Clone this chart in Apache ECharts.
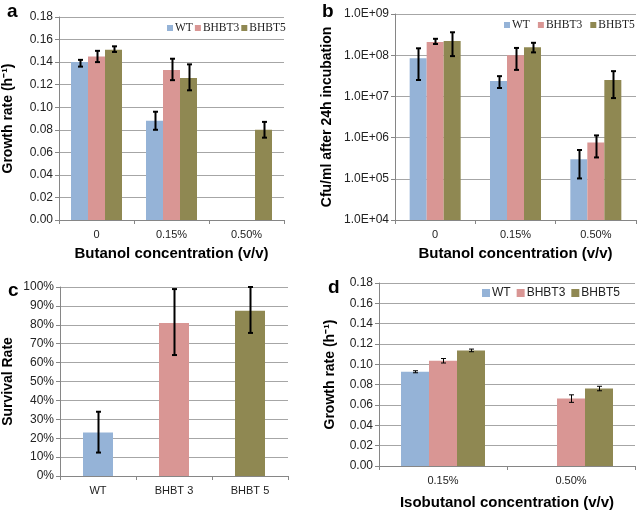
<!DOCTYPE html>
<html lang="en">
<head>
<meta charset="UTF-8">
<title>Butanol tolerance</title>
<script src="https://cdn.jsdelivr.net/npm/echarts@6/dist/echarts.min.js"></script>
<style>
html, body { margin: 0; padding: 0; background: #fff; }
#main { width: 638px; height: 511px; }
</style>
</head>
<body>
<div id="main"></div>
<script type="text/javascript">
var names = ['WT', 'BHBT3', 'BHBT5'];
var colors = ['#95b3d7', '#d99694', '#8f8852'];

/* a: growth rate, butanol */
var catA = ['0', '0.15%', '0.50%'];
var aWT = [0.140, 0.088, 0];
var aWTlo = [0.136, 0.080, null];
var aWThi = [0.142, 0.096, null];
var aB3 = [0.145, 0.133, 0];
var aB3lo = [0.140, 0.124, null];
var aB3hi = [0.150, 0.143, null];
var aB5 = [0.151, 0.126, 0.080];
var aB5lo = [0.149, 0.115, 0.073];
var aB5hi = [0.154, 0.138, 0.087];

/* b: cfu/ml after 24h, log axis */
var catB = ['0', '0.15%', '0.50%'];
var bWT = [8.4e7, 2.35e7, 3.0e5];
var bWTlo = [2.5e7, 1.6e7, 1.02e5];
var bWThi = [1.47e8, 3.1e7, 5.0e5];
var bB3 = [2.1e8, 1.0e8, 7.6e5];
var bB3lo = [1.87e8, 4.4e7, 3.3e5];
var bB3hi = [2.5e8, 1.5e8, 1.13e6];
var bB5 = [2.2e8, 1.55e8, 2.5e7];
var bB5lo = [9.5e7, 1.17e8, 9.1e6];
var bB5hi = [3.6e8, 2.0e8, 4.1e7];

/* c: survival rate */
var catC = ['WT', 'BHBT 3', 'BHBT 5'];
var cVal = [0.23, 0.81, 0.875];
var cLo = [0.124, 0.64, 0.757];
var cHi = [0.34, 0.989, 1.0];

/* d: growth rate, isobutanol */
var catD = ['0.15%', '0.50%'];
var dWT = [0.0927, 0];
var dWTlo = [0.0917, null];
var dWThi = [0.0937, null];
var dB3 = [0.1035, 0.0663];
var dB3lo = [0.1013, 0.0626];
var dB3hi = [0.1057, 0.0700];
var dB5 = [0.1137, 0.0762];
var dB5lo = [0.1124, 0.0740];
var dB5hi = [0.1150, 0.0784];

var myChart = echarts.init(document.getElementById('main'));

var sans = 'Liberation Sans, Arial, sans-serif';
var serif = 'Liberation Serif, Times New Roman, serif';

// rows of [category, low, high, seriesIndex] for the error bars
function errRows(los, his) {
    var rows = [];
    for (var s = 0; s < los.length; s++) {
        for (var i = 0; i < los[s].length; i++) {
            if (los[s][i] != null) rows.push([i, los[s][i], his[s][i], s]);
        }
    }
    return rows;
}

function errSeries(xi, yi, rows, n, barW, cap, lw) {
    return {
        type: 'custom',
        xAxisIndex: xi,
        yAxisIndex: yi,
        z: 5,
        silent: true,
        data: rows,
        renderItem: function (params, api) {
            var lo = api.coord([api.value(0), api.value(1)]);
            var hi = api.coord([api.value(0), api.value(2)]);
            var x = Math.round(lo[0] + (api.value(3) - (n - 1) / 2) * barW) + 0.5;
            var st = { stroke: '#000', lineWidth: lw };
            return {
                type: 'group',
                children: [
                    { type: 'line', shape: { x1: x, y1: hi[1], x2: x, y2: lo[1] }, style: st },
                    { type: 'line', shape: { x1: x - cap, y1: hi[1], x2: x + cap, y2: hi[1] }, style: st },
                    { type: 'line', shape: { x1: x - cap, y1: lo[1], x2: x + cap, y2: lo[1] }, style: st }
                ]
            };
        }
    };
}

function barSeries(name, xi, yi, data, color, w) {
    return {
        name: name,
        type: 'bar',
        xAxisIndex: xi,
        yAxisIndex: yi,
        data: data,
        barWidth: w,
        barGap: '0%',
        itemStyle: { color: color }
    };
}

function catAxis(gi, data, name, gap) {
    return {
        type: 'category',
        gridIndex: gi,
        data: data,
        name: name,
        nameLocation: 'middle',
        nameGap: gap,
        nameTextStyle: { fontFamily: sans, fontWeight: 'bold', fontSize: 15, color: '#000' },
        axisLine: { lineStyle: { color: '#868686', width: 1 } },
        axisTick: { show: true, length: 4, lineStyle: { color: '#868686' } },
        axisLabel: { fontFamily: sans, fontSize: 11, color: '#222', margin: 9 }
    };
}

function valAxis(gi, name, gap, opts) {
    var ax = {
        type: 'value',
        gridIndex: gi,
        name: name,
        nameLocation: 'middle',
        nameGap: gap,
        nameTextStyle: { fontFamily: sans, fontWeight: 'bold', fontSize: 14, color: '#000' },
        axisLine: { show: true, lineStyle: { color: '#868686', width: 1 } },
        axisTick: { show: true, length: 4, lineStyle: { color: '#868686' } },
        splitLine: { lineStyle: { color: '#a6a6a6', width: 1 } }
    };
    for (var k in opts) ax[k] = opts[k];
    return ax;
}

function tickLabel(fmt) {
    return { fontFamily: sans, fontSize: 12, color: '#222', margin: 6, formatter: fmt };
}

var letterStyle = { fontFamily: sans, fontWeight: 'bold', fontSize: 19, color: '#000' };

myChart.setOption({
    animation: false,
    title: [
        { text: 'a', left: 2, top: -3, textStyle: letterStyle },
        { text: 'b', left: 317, top: -3, textStyle: letterStyle },
        { text: 'c', left: 3, top: 276, textStyle: letterStyle },
        { text: 'd', left: 323, top: 273, textStyle: letterStyle }
    ],
    legend: [
        {
            data: names, left: 167, top: 22, padding: 0,
            itemWidth: 6, itemHeight: 6, itemGap: 2, icon: 'rect',
            textStyle: { fontFamily: serif, fontSize: 11.5, color: '#222', padding: [0, 0, 0, -3] }
        },
        {
            data: names, left: 504, top: 19, padding: 0,
            itemWidth: 6, itemHeight: 6, itemGap: 8, icon: 'rect',
            textStyle: { fontFamily: serif, fontSize: 11.5, color: '#222', padding: [0, 0, 0, -3] }
        },
        {
            data: names, left: 482, top: 287, padding: 0,
            itemWidth: 8, itemHeight: 8, itemGap: 6, icon: 'rect',
            textStyle: { fontFamily: sans, fontSize: 12, color: '#222', padding: [0, 0, 0, -3] }
        }
    ],
    grid: [
        { left: 56, top: 17, width: 228, height: 203 },
        { left: 395, top: 14, width: 241, height: 206 },
        { left: 56, top: 287, width: 232, height: 189 },
        { left: 379, top: 283, width: 256, height: 189 }
    ],
    xAxis: [
        catAxis(0, catA, 'Butanol concentration (v/v)', 26),
        catAxis(1, catB, 'Butanol concentration (v/v)', 26),
        catAxis(2, catC, '', 26),
        catAxis(3, catD, 'Isobutanol concentration (v/v)', 29)
    ],
    yAxis: [
        valAxis(0, 'Growth rate (h\u207b\u00b9)', 44, {
            min: 0, max: 0.18, interval: 0.02,
            axisLabel: tickLabel(function (v) { return v.toFixed(2); })
        }),
        valAxis(1, 'Cfu/ml after 24h incubation', 61, {
            type: 'log', logBase: 10, min: 1e4, max: 1e9,
            axisLabel: tickLabel(function (v) {
                return '1.0E+' + String(Math.round(Math.log10(v))).padStart(2, '0');
            })
        }),
        valAxis(2, 'Survival Rate', 45, {
            min: 0, max: 1, interval: 0.1,
            axisLabel: tickLabel(function (v) { return Math.round(v * 100) + '%'; })
        }),
        valAxis(3, 'Growth rate (h\u207b\u00b9)', 42, {
            min: 0, max: 0.18, interval: 0.02,
            axisLabel: tickLabel(function (v) { return v.toFixed(2); })
        })
    ],
    series: [
        barSeries('WT', 0, 0, aWT, colors[0], 17),
        barSeries('BHBT3', 0, 0, aB3, colors[1], 17),
        barSeries('BHBT5', 0, 0, aB5, colors[2], 17),
        errSeries(0, 0, errRows([aWTlo, aB3lo, aB5lo], [aWThi, aB3hi, aB5hi]), 3, 17, 2.5, 2),

        barSeries('WT', 1, 1, bWT, colors[0], 17),
        barSeries('BHBT3', 1, 1, bB3, colors[1], 17),
        barSeries('BHBT5', 1, 1, bB5, colors[2], 17),
        errSeries(1, 1, errRows([bWTlo, bB3lo, bB5lo], [bWThi, bB3hi, bB5hi]), 3, 17, 2.5, 2),

        {
            type: 'bar', xAxisIndex: 2, yAxisIndex: 2, barWidth: 30,
            data: cVal.map(function (v, i) { return { value: v, itemStyle: { color: colors[i] } }; })
        },
        errSeries(2, 2, errRows([cLo], [cHi]), 1, 0, 2.5, 2),

        barSeries('WT', 3, 3, dWT, colors[0], 28),
        barSeries('BHBT3', 3, 3, dB3, colors[1], 28),
        barSeries('BHBT5', 3, 3, dB5, colors[2], 28),
        errSeries(3, 3, errRows([dWTlo, dB3lo, dB5lo], [dWThi, dB3hi, dB5hi]), 3, 28, 2.5, 1)
    ]
});
</script>
</body>
</html>
